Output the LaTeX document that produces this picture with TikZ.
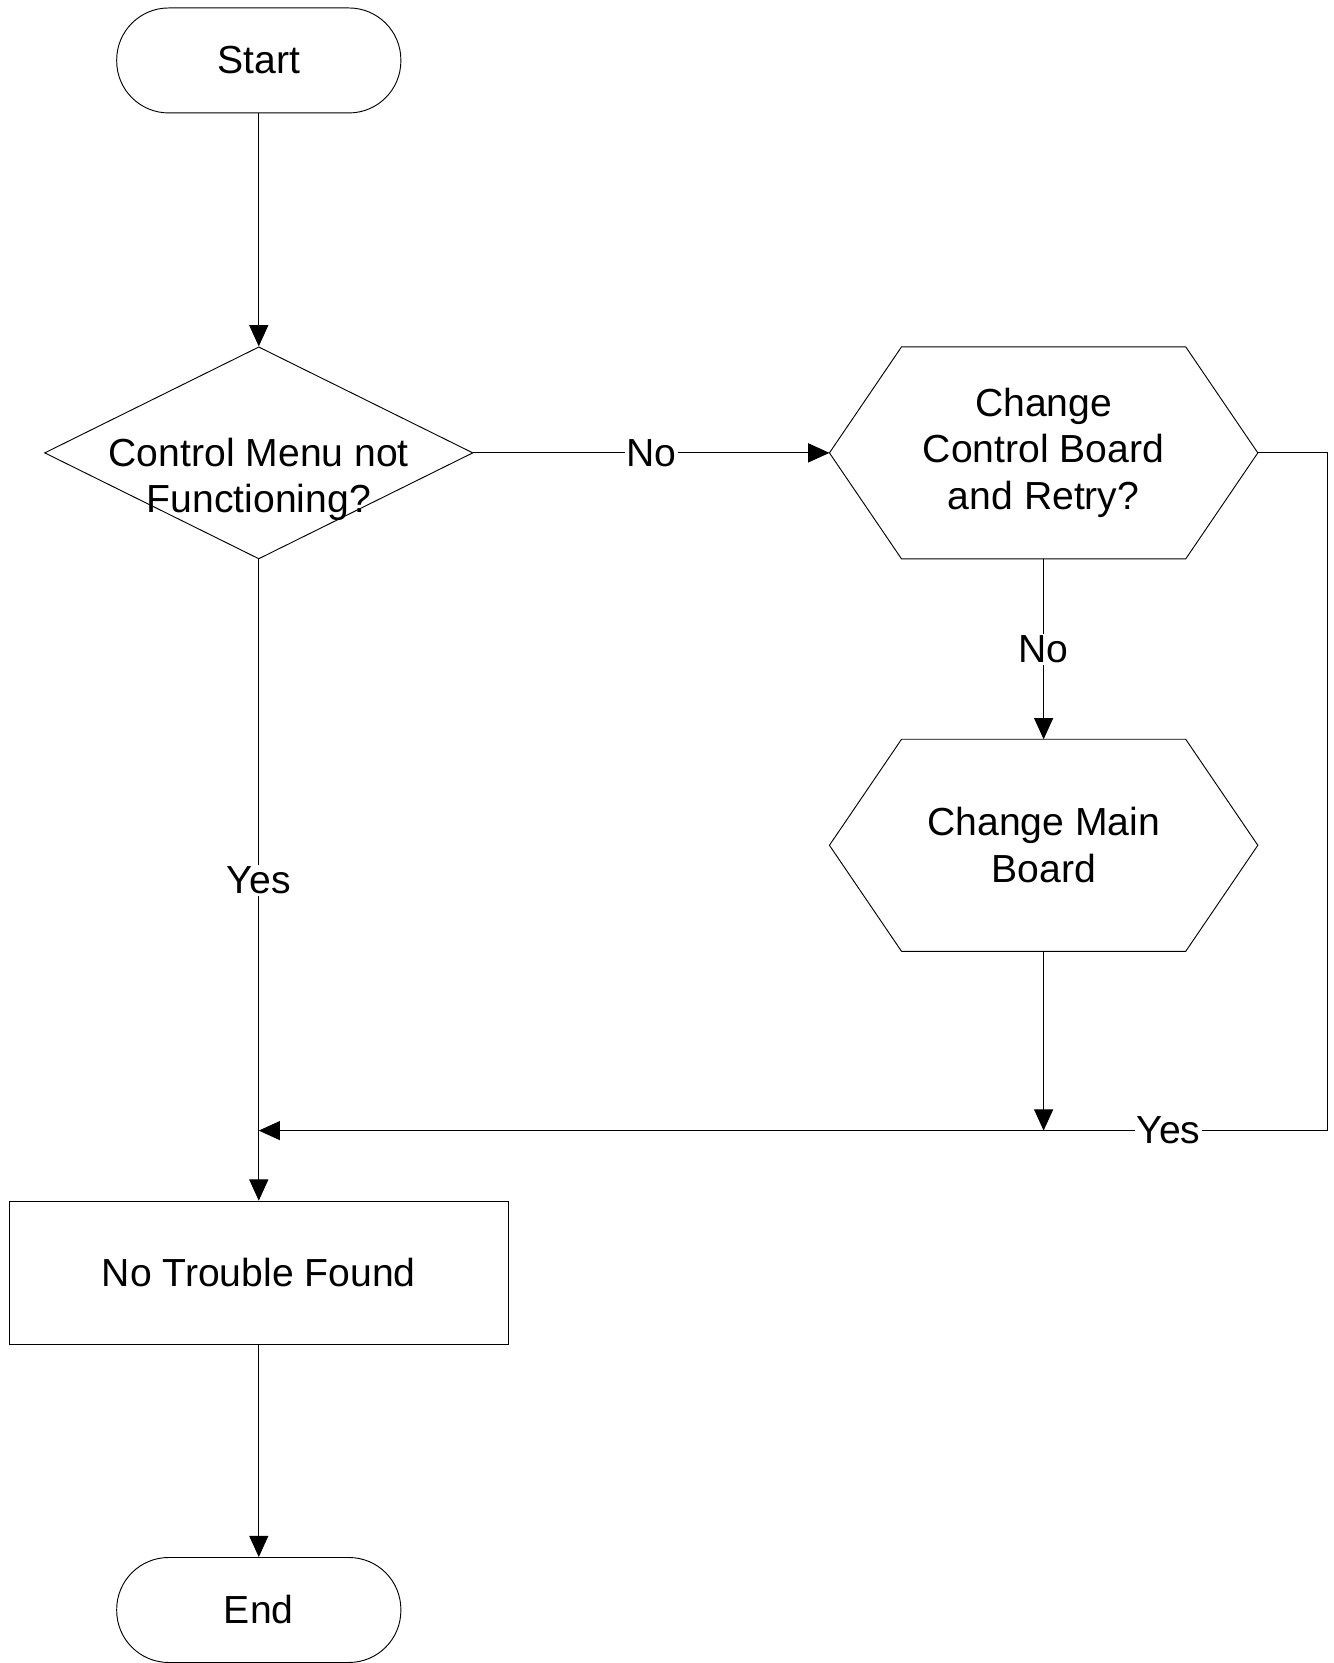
\documentclass[tikz,border=0pt]{standalone}
\usepackage{fontspec}
\setmainfont{Liberation Sans}
\usepackage{tikz}
\usetikzlibrary{shapes.geometric, arrows.meta}
\tikzstyle{arrow} = [-{Triangle[length=0.4cm, width=0.36cm]}, line width=0.5pt]
\tikzstyle{terminal} = [draw, line width=0.5pt, rectangle, rounded corners=0.98cm, minimum width=5.36cm, minimum height=1.98cm]
\tikzstyle{decision} = [draw, line width=0.5pt, diamond, minimum width=8.08cm, minimum height=4cm, inner sep=0pt]
\tikzstyle{process} = [draw, line width=0.5pt, rectangle, minimum width=9.4cm, minimum height=2.7cm]
\tikzstyle{hexbox} = [rectangle, outer sep=0pt, minimum width=8.08cm, minimum height=4cm, align=center]
\tikzstyle{branch} = [fill=white, inner sep=1pt]

\begin{document}
\begin{tikzpicture}[x=0.02cm, y=-0.02cm, font=\fontsize{21}{25}\selectfont]
    \useasboundingbox (0,0) rectangle (1257,1568);

    % main column
    \node[terminal] (start) at (244,57) {Start};
    \node[decision, label={[align=center, yshift=-0.5cm]center:Control Menu not\\Functioning?}] (menu) at (244,427) {};
    \node[process] (ntf) at (244,1200) {No Trouble Found};
    \node[terminal] (end) at (244,1518) {End};

    % repair branch
    \node[hexbox] (retry) at (984,427) {Change\\Control Board\\and Retry?};
    \node[hexbox] (mainbd) at (984,797) {Change Main\\Board};
    \foreach \h in {retry, mainbd}
        \draw[line width=0.5pt] (\h.west) -- ([xshift=1.36cm]\h.north west)
            -- ([xshift=-1.36cm]\h.north east) -- (\h.east)
            -- ([xshift=-1.36cm]\h.south east) -- ([xshift=1.36cm]\h.south west) -- cycle;

    \coordinate (merge) at (244,1066);
    \coordinate (drop) at (984,1066);
    \coordinate (loop) at (1252,427);

    % connectors
    \draw[arrow] (start) -- (menu);
    \draw[arrow] (menu.east) -- node[branch] {No} (retry.west);
    \draw[arrow] (retry.south) -- node[branch] {No} (mainbd.north);
    \draw[arrow] (menu.south) -- node[branch] {Yes} (ntf.north);
    \draw[arrow] (mainbd.south) -- (drop);
    \draw[arrow] (retry.east) -- (loop) -- (loop |- merge)
        -- node[branch, pos=0.149] {Yes} (merge);
    \draw[arrow] (ntf) -- (end);
\end{tikzpicture}
\end{document}
